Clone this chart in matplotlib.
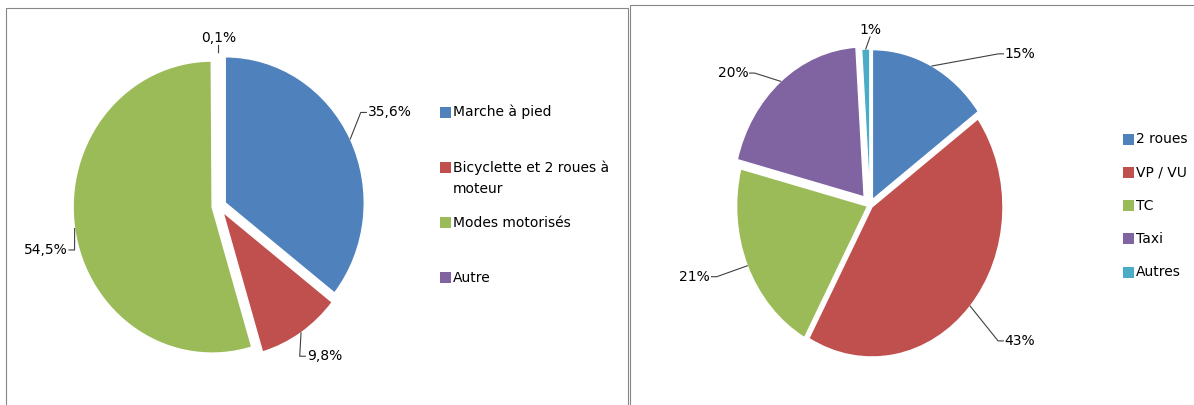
import numpy as np
import matplotlib.pyplot as plt
from matplotlib import font_manager
from matplotlib.patches import Rectangle

# répartition modale (graphique de gauche)
modes = ['Marche à pied', 'Bicyclette et 2 roues à\nmoteur', 'Modes motorisés', 'Autre']
parts_modes = [35.6, 9.8, 54.5, 0.1]
textes_modes = ['35,6%', '9,8%', '54,5%', '0,1%']

# répartition des véhicules (graphique de droite)
vehicules = ['2 roues', 'VP / VU', 'TC', 'Taxi', 'Autres']
parts_vehicules = [15, 43, 21, 20, 1]
textes_vehicules = ['15%', '43%', '21%', '20%', '1%']

couleurs = ['#4F81BD', '#C0504D', '#9BBB59', '#8064A2', '#4BACC6']


def dispo(nom):
    try:
        font_manager.findfont(nom, fallback_to_default=False)
        return True
    except ValueError:
        return False


# police étroite si possible (le modèle est en Calibri)
if dispo('DejaVu Sans Condensed'):
    plt.rcParams['font.family'] = ['DejaVu Sans Condensed', 'DejaVu Sans']
    fs = 11.2
elif dispo('Liberation Sans Narrow'):
    plt.rcParams['font.family'] = ['Liberation Sans Narrow', 'DejaVu Sans']
    fs = 13
else:
    fs = 10

W, H = 1194, 405
fig = plt.figure(figsize=(W / 100, H / 100), dpi=100)
gris = '#868686'

# cadres des deux graphiques
fig.add_artist(Rectangle((5.5 / W, -0.1), 622 / W, 1.1 - 7.5 / H, transform=fig.transFigure,
                         fill=False, edgecolor=gris, linewidth=0.8))
fig.add_artist(Rectangle((629.5 / W, -0.1), 0.5, 1.1 - 5.5 / H, transform=fig.transFigure,
                         fill=False, edgecolor=gris, linewidth=0.8))


def axe(cx, cy, rx, ry, xl, yl):
    left = cx - xl * rx
    top = cy - yl * ry
    ax = fig.add_axes([left / W, 1 - (top + 2 * yl * ry) / H, 2 * xl * rx / W, 2 * yl * ry / H])
    return ax, xl, yl


def camembert(ax, xl, yl, parts, textes, explode, decal, dist):
    wedges, _ = ax.pie(parts, colors=couleurs[:len(parts)], startangle=90, counterclock=False,
                       explode=explode, wedgeprops=dict(edgecolor='white', linewidth=1))
    ax.set_aspect('auto')
    ax.set_xlim(-xl, xl)
    ax.set_ylim(-yl, yl)
    ax.axis('off')
    for w, t, e, d, r in zip(wedges, textes, explode, decal, dist):
        mid = np.deg2rad((w.theta1 + w.theta2) / 2)
        bx, by = (1 + e) * np.cos(mid), (1 + e) * np.sin(mid)
        a = mid - np.deg2rad(d)
        lx, ly = r * np.cos(a), r * np.sin(a)
        if lx > 0.15:
            ax.text(lx, ly, t, ha='left', va='center', fontsize=fs)
            ax.plot([bx, lx - 0.05, lx - 0.01], [by, ly, ly], color='#404040', lw=0.8)
        elif lx < -0.15:
            ax.text(lx, ly, t, ha='right', va='center', fontsize=fs)
            ax.plot([bx, lx + 0.05, lx + 0.01], [by, ly, ly], color='#404040', lw=0.8)
        else:
            ax.text(lx, ly, t, ha='center', va='bottom', fontsize=fs)
            ax.plot([bx, lx], [by, ly], color='#404040', lw=0.8)


def legende(noms, x, y0, pas):
    for i, nom in enumerate(noms):
        y = y0 + i * pas
        fig.add_artist(Rectangle((x / W, 1 - (y + 5.5) / H), 11 / W, 11 / H,
                                 transform=fig.transFigure, color=couleurs[i], linewidth=0))
        for j, ligne in enumerate(nom.split('\n')):
            fig.text((x + 13) / W, 1 - (y + j * 22) / H, ligne, ha='left', va='center', fontsize=fs)


ax1, xl1, yl1 = axe(219, 206, 139, 146, 1.5, 1.35)
camembert(ax1, xl1, yl1, parts_modes, textes_modes, [0.05, 0.05, 0.05, 0.05],
          [-5, 2.7, -7, 0], [1.247, 1.207, 1.13, 1.10])
legende(modes, 440, 112, 55.3)

ax2, xl2, yl2 = axe(870, 205, 131, 150, 1.6, 1.3)
camembert(ax2, xl2, yl2, parts_vehicules, textes_vehicules, [0.04, 0.02, 0.02, 0.07, 0.04],
          [18.6, 0, 2, -7, 1.8], [1.44, 1.37, 1.31, 1.28, 1.12])
legende(vehicules, 1123, 139, 33.25)

fig.savefig('out.png', dpi=100)
